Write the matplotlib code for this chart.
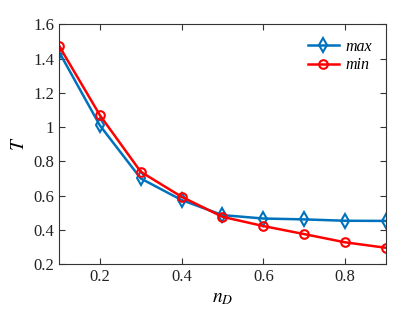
import matplotlib
matplotlib.use("Agg")
import matplotlib.pyplot as plt
from matplotlib.ticker import FuncFormatter

plt.rcParams['font.family'] = ['Liberation Serif', 'DejaVu Serif']
plt.rcParams['mathtext.fontset'] = 'stix'

n_D = [0.1, 0.2, 0.3, 0.4, 0.5, 0.6, 0.7, 0.8, 0.9]
T_max = [1.44, 1.01, 0.70, 0.574, 0.486, 0.466, 0.461, 0.453, 0.452]
T_min = [1.475, 1.07, 0.739, 0.593, 0.476, 0.422, 0.375, 0.327, 0.295]
x_ticks = [0.2, 0.4, 0.6, 0.8]
y_ticks = [0.2, 0.4, 0.6, 0.8, 1.0, 1.2, 1.4, 1.6]

fig = plt.figure(figsize=(4.08, 3.17), dpi=100)
ax = fig.add_axes([0.1446, 0.167, 0.8014, 0.756])

ax.plot(n_D, T_max, color='#0072BD', lw=1.8, marker='d', ms=7, mfc='none',
        mec='#0072BD', mew=1.5, label='max')
ax.plot(n_D, T_min, color='#FF0000', lw=1.8, marker='o', ms=6.2, mfc='none',
        mec='#FF0000', mew=1.5, label='min')

ax.set_xlim(0.1, 0.9)
ax.set_ylim(0.2, 1.6)
ax.set_xticks(x_ticks)
ax.set_yticks(y_ticks)
ax.yaxis.set_major_formatter(FuncFormatter(lambda v, p: ('%g' % round(v, 2))))
ax.tick_params(direction='in', top=True, right=True, labelsize=12, length=4,
               width=0.8, colors='#333333', labelcolor='#222222')
for s in ax.spines.values():
    s.set_color('#333333')
    s.set_linewidth(0.8)

ax.set_xlabel(r'$n_D$', fontsize=14)
ax.set_ylabel(r'$T$', fontsize=14)

leg = ax.legend(loc='upper right', frameon=False, handlelength=1.9,
                handletextpad=0.4, labelspacing=0.15,
                prop={'style': 'italic', 'size': 11.5})

fig.savefig('out.png', dpi=100)
